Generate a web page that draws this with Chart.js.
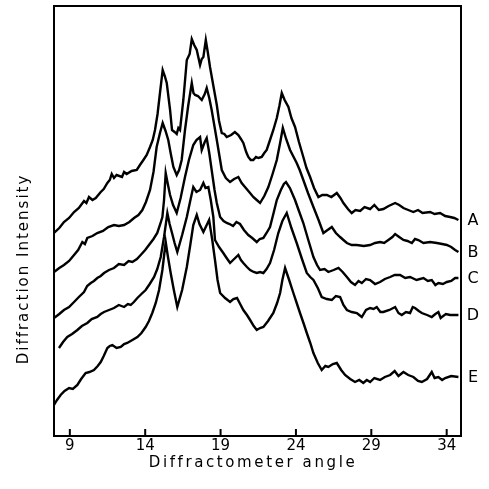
<!DOCTYPE html>
<html>
<head>
<meta charset="utf-8">
<script src="https://cdn.jsdelivr.net/npm/chart.js@4"></script>
<style>
html,body{margin:0;padding:0;background:#fff;}
#c{display:block;}
</style>
</head>
<body>
<canvas id="c" width="489" height="489"></canvas>
<script>
// ---- data (diffractometer angle in degrees, intensity in arbitrary units, curves offset) ----
const xTicks = [9, 14, 19, 24, 29, 34];
const curveNames = ['A', 'B', 'C', 'D', 'E'];
const xTitle = 'Diffractometer angle';
const yTitle = 'Diffraction Intensity';

const angleA = [7.95,8.30,8.61,8.95,9.28,9.60,9.94,10.10,10.27,10.50,10.72,11.05,11.25,11.49,11.65,11.78,11.93,12.10,12.46,12.60,12.77,13.10,13.44,13.65,13.88,14.10,14.32,14.50,14.65,14.82,14.98,15.16,15.30,15.43,15.65,15.78,15.95,16.09,16.20,16.31,16.53,16.76,16.95,17.09,17.25,17.42,17.64,17.75,17.86,18.02,18.15,18.30,18.50,18.75,18.90,19.08,19.25,19.41,19.70,19.95,20.18,20.35,20.51,20.70,20.84,21.00,21.17,21.35,21.51,21.73,21.90,22.06,22.28,22.50,22.73,22.90,23.06,23.25,23.50,23.70,23.94,24.20,24.49,24.70,24.94,25.20,25.49,25.75,26.05,26.35,26.71,26.95,27.15,27.45,27.70,27.95,28.26,28.55,28.92,29.20,29.50,29.80,30.15,30.58,30.85,31.13,31.45,31.79,32.10,32.40,32.90,33.20,33.56,33.90,34.23,34.50,34.78];
const intensityA = [203,208,214,218,224,228,235,233,239,236,238,244,247,253,256,262,258,261,259,264,262,265,266,271,276,281,289,296,306,322,343,366,360,353,326,306,304,302,308,306,336,376,382,397,391,386,371,377,379,396,384,369,352,331,315,303,302,299,301,304,301,297,293,284,279,276,276,279,278,279,283,286,296,306,318,330,343,336,329,318,309,294,279,268,259,248,239,241,241,239,243,238,233,227,223,226,225,229,227,231,226,227,230,233,231,228,226,224,226,223,224,222,223,220,219,218,216];

const angleB = [7.95,8.30,8.61,8.95,9.28,9.55,9.83,10.00,10.16,10.50,10.82,11.20,11.55,11.93,12.25,12.60,12.95,13.26,13.55,13.81,14.05,14.32,14.55,14.76,14.98,15.16,15.35,15.53,15.70,15.87,16.09,16.25,16.42,16.64,16.85,17.09,17.20,17.31,17.50,17.75,17.95,18.08,18.25,18.41,18.75,19.08,19.35,19.63,19.90,20.18,20.40,20.62,20.90,21.17,21.40,21.62,21.90,22.17,22.45,22.73,22.95,23.13,23.35,23.61,24.05,24.25,24.49,24.80,25.16,25.50,25.82,26.10,26.38,26.65,26.93,27.15,27.38,27.70,28.04,28.50,28.92,29.25,29.58,29.85,30.13,30.40,30.58,30.85,31.13,31.40,31.69,31.90,32.12,32.46,32.90,33.35,33.70,34.01,34.30,34.56,34.78];
const intensityB = [164,168,171,175,181,186,194,192,198,200,203,205,209,211,210,211,214,218,221,226,234,246,264,289,303,313,305,296,282,269,261,266,276,306,330,353,343,341,340,336,342,348,338,326,296,266,258,254,257,259,253,249,244,239,236,233,240,249,262,276,293,308,297,286,273,266,256,243,229,216,203,206,209,203,199,196,193,191,191,190,191,193,194,193,196,199,202,199,196,195,193,197,196,193,194,193,192,191,189,186,184];

const angleC = [7.95,8.30,8.61,8.95,9.28,9.60,9.94,10.15,10.39,10.60,10.82,11.05,11.27,11.60,11.93,12.25,12.60,12.90,13.15,13.45,13.70,14.00,14.25,14.55,14.80,15.00,15.14,15.25,15.36,15.50,15.65,15.85,16.09,16.35,16.64,16.90,17.19,17.40,17.64,17.75,17.95,18.08,18.25,18.41,18.60,18.75,18.97,19.20,19.41,19.60,19.83,20.05,20.29,20.55,20.84,21.10,21.40,21.60,21.84,22.05,22.28,22.50,22.73,23.00,23.20,23.34,23.60,23.94,24.20,24.49,24.80,25.16,25.40,25.60,25.90,26.15,26.50,26.82,27.10,27.38,27.65,27.92,28.15,28.37,28.65,28.92,29.25,29.58,29.90,30.25,30.55,30.91,31.25,31.57,32.00,32.46,32.75,33.01,33.25,33.45,33.75,34.01,34.30,34.56,34.78];
const intensityC = [118,122,126,129,134,139,144,150,153,155,158,160,163,166,168,172,171,175,174,177,181,186,191,197,203,212,219,236,263,252,241,231,223,238,259,276,291,296,299,286,294,298,283,266,246,233,219,215,213,212,210,214,212,206,201,198,194,197,198,203,209,222,236,246,252,254,248,236,225,213,197,179,171,166,167,164,166,168,164,159,154,151,155,153,157,156,152,154,157,159,161,161,158,159,156,158,155,156,151,153,152,154,155,158,158];

const angleD = [8.28,8.55,8.83,9.15,9.50,9.80,10.16,10.45,10.82,11.05,11.27,11.60,11.93,12.25,12.60,12.85,13.04,13.25,13.48,13.75,14.03,14.30,14.59,14.80,15.03,15.25,15.47,15.62,15.78,15.95,16.13,16.45,16.76,17.00,17.19,17.40,17.64,17.86,18.00,18.19,18.35,18.52,18.63,18.90,19.18,19.40,19.63,19.90,20.18,20.35,20.51,20.75,20.96,21.20,21.40,21.62,21.84,22.05,22.28,22.55,22.83,23.10,23.39,23.70,24.05,24.40,24.72,24.95,25.16,25.45,25.71,26.05,26.38,26.65,26.93,27.15,27.38,27.70,28.04,28.20,28.37,28.65,28.92,29.15,29.36,29.60,29.80,30.20,30.58,30.80,31.02,31.30,31.57,31.75,31.90,32.15,32.35,32.70,33.01,33.25,33.45,33.60,33.68,33.95,34.23,34.50,34.78];
const intensityD = [88,94,99,102,106,110,113,117,119,122,124,126,128,131,129,132,131,134,138,142,146,152,159,167,179,199,223,212,203,193,184,201,219,236,249,244,246,253,248,249,236,219,196,189,183,178,173,177,181,176,173,169,166,164,163,164,163,167,173,186,203,215,223,208,193,177,163,159,156,148,139,137,136,140,139,131,126,124,123,121,119,126,128,127,129,124,124,126,129,123,121,124,123,129,128,125,123,121,119,122,124,118,119,122,121,121,121];

const angleE = [7.95,8.15,8.39,8.65,8.95,9.20,9.50,9.75,10.05,10.30,10.60,10.85,11.05,11.25,11.49,11.65,11.82,12.10,12.38,12.60,12.81,13.15,13.48,13.75,14.03,14.25,14.47,14.70,14.92,15.14,15.25,15.36,15.50,15.69,15.90,16.13,16.45,16.76,17.00,17.19,17.42,17.60,17.86,18.05,18.24,18.45,18.63,18.80,18.97,19.30,19.63,19.85,20.09,20.30,20.51,20.75,20.96,21.20,21.40,21.62,21.84,22.15,22.50,22.75,22.95,23.10,23.28,23.55,23.83,24.05,24.27,24.50,24.72,24.95,25.16,25.45,25.71,25.95,26.15,26.45,26.71,27.00,27.26,27.60,27.92,28.20,28.47,28.70,28.92,29.20,29.58,29.90,30.25,30.55,30.80,31.13,31.45,31.79,32.10,32.35,32.70,33.01,33.20,33.45,33.70,33.90,34.30,34.78];
const intensityE = [31,36,41,45,48,47,51,57,63,64,66,70,74,80,88,90,91,88,89,92,93,96,99,103,109,115,123,133,146,166,180,194,180,163,146,129,146,169,192,211,221,212,204,210,216,196,176,156,143,138,134,137,138,132,126,121,116,110,106,108,109,115,123,133,143,156,168,156,143,133,123,113,103,93,83,73,66,70,69,72,73,66,61,57,54,56,53,56,54,58,56,59,61,65,60,64,61,59,55,54,57,64,58,59,56,58,60,59];

const seriesAngles = [angleA, angleB, angleC, angleD, angleE];
const seriesIntensities = [intensityA, intensityB, intensityC, intensityD, intensityE];

// ---- chart ----
const INK = '#000000';
const FONT = '"DejaVu Sans", "Liberation Sans", sans-serif';

const datasets = curveNames.map((name, i) => ({
  label: name,
  data: seriesAngles[i].map((a, k) => ({ x: a, y: seriesIntensities[i][k] })),
  borderColor: INK,
  borderWidth: 2.4,
  pointRadius: 0,
  tension: 0,
  fill: false
}));

const decor = {
  id: 'decor',
  afterDraw(chart) {
    const ctx = chart.ctx;
    const a = chart.chartArea;
    const xs = chart.scales.x, ys = chart.scales.y;
    ctx.save();
    // frame
    ctx.strokeStyle = INK;
    ctx.lineWidth = 2;
    ctx.strokeRect(a.left, a.top, a.right - a.left, a.bottom - a.top);
    // inward tick marks
    ctx.lineWidth = 2;
    xTicks.forEach(v => {
      const px = xs.getPixelForValue(v);
      ctx.beginPath();
      ctx.moveTo(px, a.bottom);
      ctx.lineTo(px, a.bottom - 7);
      ctx.stroke();
    });
    ctx.fillStyle = INK;
    // curve labels at right end
    ctx.font = '16px ' + FONT;
    ctx.textAlign = 'center';
    ctx.textBaseline = 'middle';
    curveNames.forEach((n, i) => {
      const vals = seriesIntensities[i];
      const py = ys.getPixelForValue(vals[vals.length - 1]);
      ctx.fillText(n, a.right + 12, py + 1);
    });
    // axis titles
    ctx.font = '15px ' + FONT;
    ctx.textBaseline = 'alphabetic';
    try { ctx.letterSpacing = '2.6px'; } catch (e) {}
    ctx.textAlign = 'center';
    ctx.fillText(xTitle, 253, 467);
    try { ctx.letterSpacing = '2px'; } catch (e) {}
    ctx.translate(28, 269);
    ctx.rotate(-Math.PI / 2);
    ctx.fillText(yTitle, 0, 0);
    ctx.restore();
  }
};

new Chart(document.getElementById('c'), {
  type: 'line',
  data: { datasets },
  options: {
    responsive: false,
    animation: false,
    devicePixelRatio: 1,
    layout: { padding: { left: 54, right: 28, top: 6, bottom: 0 } },
    plugins: { legend: { display: false }, tooltip: { enabled: false } },
    scales: {
      x: {
        type: 'linear',
        min: 7.95,
        max: 34.95,
        afterBuildTicks: s => { s.ticks = xTicks.map(v => ({ value: v })); },
        afterFit: s => { s.height = 53; },
        grid: { display: false, drawTicks: false },
        border: { display: false },
        ticks: { color: INK, font: { family: FONT, size: 15 }, padding: 1, maxRotation: 0, autoSkip: false }
      },
      y: {
        display: false,
        min: 0,
        max: 430
      }
    }
  },
  plugins: [decor]
});
</script>
</body>
</html>
